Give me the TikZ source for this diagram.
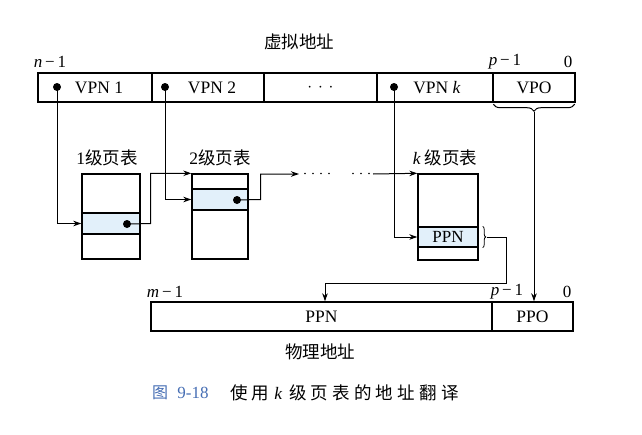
\documentclass[tikz,border=0pt]{standalone}
\usepackage{fontspec}
\setmainfont{Liberation Serif}
\newfontfamily\cjk{Noto Sans CJK SC}
\newfontfamily\cjkcap[LetterSpace=24]{Noto Sans CJK SC}
\usetikzlibrary{arrows.meta,decorations.pathreplacing}
\definecolor{rowfill}{RGB}{226,240,250}
\definecolor{capblue}{RGB}{70,110,180}
\tikzset{
  field/.style={draw, line width=1.4pt, minimum height=29pt, inner sep=0pt, font=\fontsize{17.5}{20}\selectfont},
  tbl/.style={draw, line width=1.4pt, inner sep=0pt},
  rowbox/.style={draw, line width=1.4pt, fill=rowfill, inner sep=0pt, font=\fontsize{17}{19}\selectfont},
  dotn/.style={circle, fill, inner sep=0pt, minimum size=8pt},
  arr/.style={line width=1pt, -{Stealth[length=8pt,width=5.5pt]}},
  lbl/.style={font=\fontsize{17}{19}\selectfont, inner sep=0pt},
  clbl/.style={font=\cjk\fontsize{17.5}{20}\selectfont, inner sep=0pt},
  bigbrace/.style={decorate, decoration={brace, amplitude=7pt}, line width=1pt},
  smallbrace/.style={decorate, decoration={brace, amplitude=3pt}, line width=0.8pt},
  dotline/.style={line width=1.8pt, line cap=round, dash pattern=on 0pt off 8pt}
}
\begin{document}
\begin{tikzpicture}[x=1pt,y=-1pt]
\useasboundingbox (0,0) rectangle (642,434);
\fill[white] (0,0) rectangle (642,434);

% virtual address
\node[clbl] (vtitle) at (299,42) {虚拟地址};
\node[lbl] (ln) at (50,62) {\textit{n}\,−\,1};
\node[lbl] (lp1) at (505,62) {\textit{p}\,−\,1};
\node[lbl] (l01) at (568,62) {0};
\node[field, minimum width=114pt] (vpn1) at (95,87.5) {\hspace{8pt}VPN 1};
\node[field, minimum width=112pt] (vpn2) at (208,87.5) {\hspace{8pt}VPN 2};
\node[field, minimum width=113pt] (vdots) at (320.5,87.5) {$\cdot$\,\,$\cdot$\,\,$\cdot$};
\node[field, minimum width=116pt] (vpnk) at (435,87.5) {\hspace{4pt}VPN \textit{k}};
\node[field, minimum width=82pt] (vpo) at (534,87.5) {VPO};
\node[dotn] (d1) at (57,87) {};
\node[dotn] (d2) at (165,87) {};
\node[dotn] (dk) at (394,87) {};

% page tables
\node[clbl] (l1) at (107,158) {{\rmfamily 1}级页表};
\node[clbl] (l2) at (220,158) {{\rmfamily 2}级页表};
\node[clbl] (lk) at (445,158) {{\rmfamily\itshape k}\ 级页表};

\node[tbl, minimum width=58pt, minimum height=85pt] (t1) at (111,216.5) {};
\node[rowbox, minimum width=58pt, minimum height=21pt] (t1r) at (111,223.5) {};
\node[tbl, minimum width=56pt, minimum height=85pt] (t2) at (220,216.5) {};
\node[rowbox, minimum width=56pt, minimum height=21pt] (t2r) at (220,199.5) {};
\node[tbl, minimum width=60pt, minimum height=86pt] (tk) at (448,217) {};
\node[rowbox, minimum width=60pt, minimum height=20pt] (tkr) at (448,237) {PPN};
\node[dotn] (t1d) at (127,224) {};
\node[dotn] (t2d) at (237,200) {};

% physical address
\node[lbl] (lm) at (165,292) {\textit{m}\,−\,1};
\node[lbl] (lp2) at (507,292) {\textit{p}\,−\,1};
\node[lbl] (l02) at (567,292) {0};
\node[field, minimum width=341pt] (ppn) at (321.5,316.5) {PPN};
\node[field, minimum width=81pt] (ppo) at (532.5,316.5) {PPO};
\node[clbl] (ptitle) at (320,352) {物理地址};

% connectors
\coordinate (e1) at (299,174);
\coordinate (e2) at (305,173.5);
\coordinate (e3) at (330,173.5);
\coordinate (e4) at (353,173.5);
\coordinate (e5) at (370,173.5);
\coordinate (e6) at (373,174);
\coordinate (ppnin) at ([xshift=3.5pt]ppn.north);

\draw[arr] (d1.center) |- (t1r.west);
\draw[arr] (t1d.center) -- ([xshift=10pt]t1r.east) |- (t2.north west);
\draw[arr] (d2.center) |- (t2r.west);
\draw[arr] (t2d.center) -- ([xshift=12pt]t2r.east) |- (e1);
\draw[dotline] (e2) -- (e3);
\draw[dotline] (e4) -- (e5);
\draw[arr] (e6) -- (tk.north west);
\draw[arr] (dk.center) |- (tkr.west);

\draw[smallbrace] ([xshift=4pt]tkr.north east) -- ([xshift=4pt]tkr.south east);
\draw[arr] ([xshift=8pt]tkr.east) -- ++(20,0) -- ++(0,46) -| (ppnin);

\draw[bigbrace] ([xshift=-1pt,yshift=-1.5pt]vpo.south east) -- ([xshift=1pt,yshift=-1.5pt]vpo.south west);
\draw[arr] ([yshift=-9pt]vpo.south) -- (vpo.south |- ppo.north);

% caption
\node[inner sep=0pt, text=capblue, font=\cjk\fontsize{16}{19}\selectfont] (cap1) at (160,393) {图};
\node[inner sep=0pt, text=capblue, font=\fontsize{17}{20}\selectfont] (cap2) at (193,393) {9-18};
\node[inner sep=0pt, anchor=west, font=\fontsize{17.5}{20}\selectfont] (cap3) at (230,393) {{\cjkcap 使用}\hspace{5pt}{\itshape k}\hspace{7pt}{\cjkcap 级页表的地址翻译}};
\end{tikzpicture}
\end{document}
